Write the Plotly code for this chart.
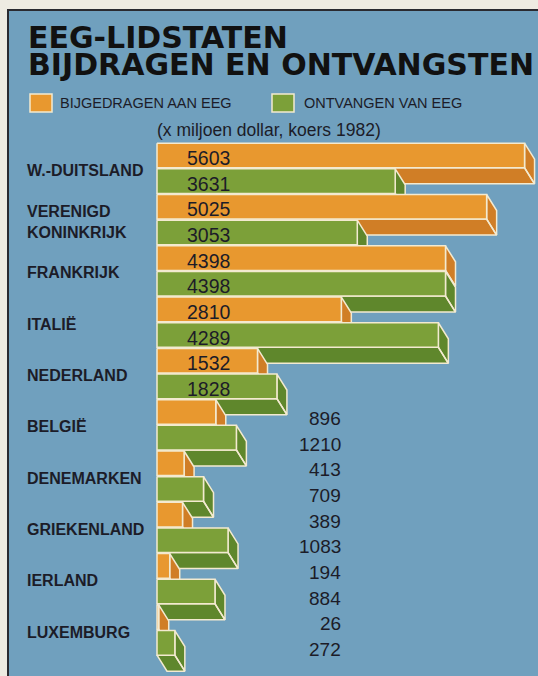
import plotly.graph_objects as go

# ---------------- data ----------------
countries = ["W.-DUITSLAND", "VERENIGD<br>KONINKRIJK", "FRANKRIJK", "ITALIË", "NEDERLAND",
             "BELGIË", "DENEMARKEN", "GRIEKENLAND", "IERLAND", "LUXEMBURG"]
contributed = [5603, 5025, 4398, 2810, 1532, 896, 413, 389, 194, 26]
received = [3631, 3053, 4398, 4289, 1828, 1210, 709, 1083, 884, 272]
series_names = ["BIJGEDRAGEN AAN EEG", "ONTVANGEN VAN EEG"]
title_lines = ["EEG-LIDSTATEN", "BIJDRAGEN EN ONTVANGSTEN"]
subtitle = "(x miljoen dollar, koers 1982)"

# ---------------- style / geometry ----------------
W, H = 538, 676
K = 0.0656          # px per unit (x)
X0 = 157            # px position of zero
PITCH = 51.3        # px per country row
Y0C = 155.5         # px centre of first orange bar
HALF = 0.24         # half bar height in row units
DX = 10 / K         # depth offset in value units
DY = 16 / PITCH     # depth offset in row units

BLUE = "#70a0be"
PAPER = "#eeebe2"
CREAM = "#f3ead0"
TXT = "#1c1c28"
FRONT = {"o": "#e8982f", "g": "#7ca039"}
DARK = {"o": "#d07e26", "g": "#5f872c"}

x_lo = -X0 / K
x_hi = (W - X0) / K
y_top = -0.25 - Y0C / PITCH
y_bot = -0.25 + (H - Y0C) / PITCH


def px(x):
    return x / W


def py(y):
    return 1 - y / H


fig = go.Figure()


def add_box(v, yc, key):
    t, b = yc - HALF, yc + HALF
    # side face + bottom face (extrusion)
    xs = [v, v + DX, v + DX, v, v, None, 0, v, v + DX, DX, 0]
    ys = [t, t + DY, b + DY, b, t, None, b, b, b + DY, b + DY, b]
    fig.add_trace(go.Scatter(x=xs, y=ys, mode="lines", fill="toself",
                             fillcolor=DARK[key], line=dict(color=CREAM, width=1.5),
                             hoverinfo="skip", showlegend=False))
    # front face
    fig.add_trace(go.Scatter(x=[0, v, v, 0, 0], y=[t, t, b, b, t], mode="lines",
                             fill="toself", fillcolor=FRONT[key],
                             line=dict(color=CREAM, width=1.5),
                             hoverinfo="skip", showlegend=False))


annotations = []
for i, (c, a, r) in enumerate(zip(countries, contributed, received)):
    add_box(a, i - 0.25, "o")
    add_box(r, i + 0.25, "g")
    annotations.append(dict(x=px(25), xref="paper", y=i + 0.04, yref="y", text=c,
                            showarrow=False, xanchor="left", yanchor="middle", align="left",
                            font=dict(family="Liberation Sans", size=16, color=TXT, weight="bold")))
    if i < 5:
        for val, yy in ((a, i - 0.25), (r, i + 0.25)):
            annotations.append(dict(x=(185 - X0) / K, xref="x", y=yy + 0.05, yref="y",
                                    text=str(val), showarrow=False, xanchor="left",
                                    yanchor="middle",
                                    font=dict(family="Liberation Sans", size=19.5, color=TXT)))
    else:
        for val, yy in ((a, i - 0.25), (r, i + 0.25)):
            annotations.append(dict(x=(343 - X0) / K, xref="x", y=yy + 0.13, yref="y",
                                    text=str(val), showarrow=False, xanchor="right",
                                    yanchor="middle",
                                    font=dict(family="Liberation Sans", size=19, color=TXT)))

# titles
for line, yc in zip(title_lines, (37, 64)):
    annotations.append(dict(x=px(26), xref="paper", y=py(yc), yref="paper", text=line,
                            showarrow=False, xanchor="left", yanchor="middle",
                            font=dict(family="DejaVu Sans", size=30, color="#111111",
                                      weight="bold")))
# legend texts
annotations.append(dict(x=px(58), xref="paper", y=py(103), yref="paper", text=series_names[0],
                        showarrow=False, xanchor="left", yanchor="middle",
                        font=dict(family="Liberation Sans", size=14.5, color=TXT)))
annotations.append(dict(x=px(302), xref="paper", y=py(103), yref="paper", text=series_names[1],
                        showarrow=False, xanchor="left", yanchor="middle",
                        font=dict(family="Liberation Sans", size=14.5, color=TXT)))
annotations.append(dict(x=px(155), xref="paper", y=py(130), yref="paper", text=subtitle,
                        showarrow=False, xanchor="left", yanchor="middle",
                        font=dict(family="Liberation Sans", size=17.5, color=TXT)))

shapes = [
    dict(type="rect", xref="paper", yref="paper", x0=px(8), x1=px(560), y0=py(10), y1=py(700),
         fillcolor=BLUE, line=dict(color="#2a2a30", width=2), layer="below"),
    dict(type="rect", xref="paper", yref="paper", x0=px(30), x1=px(52), y0=py(94), y1=py(112),
         fillcolor=FRONT["o"], line=dict(color=CREAM, width=1.5)),
    dict(type="rect", xref="paper", yref="paper", x0=px(272), x1=px(294), y0=py(94), y1=py(112),
         fillcolor=FRONT["g"], line=dict(color=CREAM, width=1.5)),
]

fig.update_layout(
    width=W, height=H, margin=dict(l=0, r=0, t=0, b=0),
    paper_bgcolor=PAPER, plot_bgcolor="rgba(0,0,0,0)",
    xaxis=dict(range=[x_lo, x_hi], visible=False, fixedrange=True),
    yaxis=dict(range=[y_bot, y_top], visible=False, fixedrange=True),
    annotations=annotations, shapes=shapes, showlegend=False,
)

fig.write_html("out.html", config={"displayModeBar": False},
               post_script="document.body.style.margin='0';document.body.style.padding='0';"
                           "document.body.style.overflow='hidden';")
